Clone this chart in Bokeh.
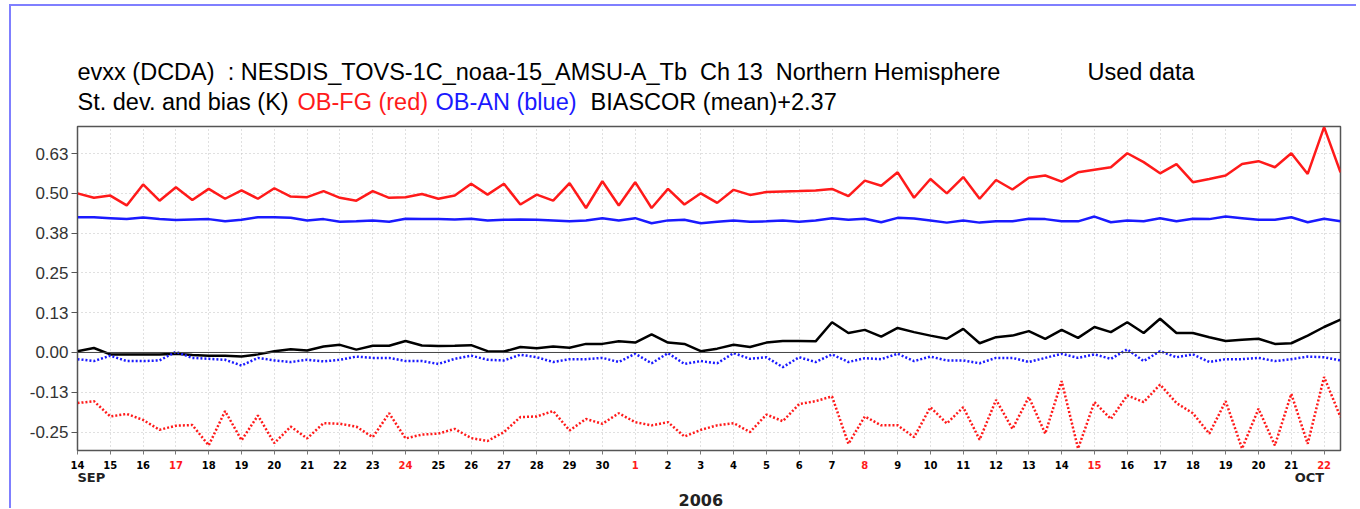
import numpy as np
from bokeh.plotting import figure
from bokeh.layouts import column
from bokeh.models import FixedTicker, Span, Range1d
from bokeh.core.properties import value
from bokeh.embed import file_html
from bokeh.resources import INLINE

# time axis: days since 14 Sep 2006, two analyses per day
days = np.arange(0, 39, 0.5)

# OB-FG standard deviation (red solid)
fg_sd = [0.500, 0.486, 0.493, 0.462, 0.528, 0.477, 0.519, 0.479, 0.514, 0.483,
         0.509, 0.483, 0.516, 0.490, 0.488, 0.507, 0.486, 0.477, 0.507, 0.486,
         0.488, 0.498, 0.483, 0.493, 0.530, 0.496, 0.530, 0.465, 0.496, 0.477,
         0.532, 0.454, 0.538, 0.462, 0.535, 0.454, 0.514, 0.465, 0.500, 0.470,
         0.511, 0.495, 0.504, 0.506, 0.507, 0.509, 0.514, 0.491, 0.540, 0.524,
         0.566, 0.486, 0.545, 0.500, 0.551, 0.483, 0.542, 0.512, 0.549, 0.556,
         0.537, 0.566, 0.574, 0.582, 0.626, 0.598, 0.563, 0.592, 0.535, 0.545,
         0.556, 0.592, 0.601, 0.582, 0.626, 0.561, 0.708, 0.566]

# OB-AN standard deviation (blue solid)
an_sd = [0.425, 0.425, 0.422, 0.419, 0.424, 0.419, 0.416, 0.418, 0.419, 0.412,
         0.417, 0.425, 0.425, 0.423, 0.415, 0.419, 0.411, 0.412, 0.415, 0.411,
         0.420, 0.419, 0.419, 0.418, 0.420, 0.415, 0.417, 0.418, 0.417, 0.415,
         0.412, 0.415, 0.422, 0.415, 0.422, 0.406, 0.415, 0.417, 0.406, 0.411,
         0.415, 0.411, 0.412, 0.415, 0.411, 0.415, 0.422, 0.417, 0.420, 0.409,
         0.423, 0.421, 0.415, 0.408, 0.415, 0.408, 0.412, 0.412, 0.420, 0.419,
         0.412, 0.412, 0.427, 0.409, 0.415, 0.412, 0.422, 0.412, 0.420, 0.419,
         0.427, 0.422, 0.417, 0.417, 0.425, 0.409, 0.420, 0.412]

# BIASCOR (mean) + 2.37 (black solid)
biascor = [0.004, 0.014, -0.006, -0.006, -0.006, -0.006, -0.004, -0.008, -0.010, -0.010,
           -0.013, -0.006, 0.004, 0.010, 0.006, 0.019, 0.024, 0.009, 0.021, 0.021,
           0.036, 0.022, 0.020, 0.021, 0.023, 0.004, 0.003, 0.017, 0.013, 0.019,
           0.015, 0.027, 0.027, 0.035, 0.031, 0.057, 0.031, 0.027, 0.004, 0.012,
           0.024, 0.017, 0.031, 0.036, 0.036, 0.035, 0.095, 0.061, 0.071, 0.050,
           0.077, 0.064, 0.053, 0.043, 0.074, 0.029, 0.048, 0.053, 0.067, 0.043,
           0.071, 0.046, 0.080, 0.064, 0.095, 0.061, 0.106, 0.061, 0.061, 0.048,
           0.036, 0.040, 0.043, 0.027, 0.029, 0.053, 0.080, 0.103]

# OB-AN bias (blue dotted)
an_bias = [-0.021, -0.027, -0.010, -0.027, -0.027, -0.025, 0.002, -0.017, -0.020, -0.023,
           -0.041, -0.017, -0.025, -0.030, -0.023, -0.028, -0.023, -0.013, -0.017, -0.017,
           -0.027, -0.027, -0.036, -0.020, -0.010, -0.023, -0.025, -0.007, -0.015, -0.030,
           -0.021, -0.021, -0.017, -0.030, -0.004, -0.034, -0.002, -0.036, -0.027, -0.034,
           -0.002, -0.020, -0.015, -0.046, -0.015, -0.030, -0.006, -0.030, -0.018, -0.021,
           -0.004, -0.027, -0.013, -0.025, -0.025, -0.034, -0.017, -0.017, -0.030, -0.017,
           -0.004, -0.017, -0.006, -0.020, 0.010, -0.027, 0.004, -0.015, -0.006, -0.030,
           -0.021, -0.021, -0.017, -0.027, -0.021, -0.013, -0.015, -0.025]

# OB-FG bias (red dotted)
fg_bias = [-0.159, -0.153, -0.201, -0.193, -0.212, -0.243, -0.230, -0.228, -0.292, -0.184,
           -0.276, -0.198, -0.285, -0.233, -0.270, -0.222, -0.224, -0.233, -0.266, -0.191,
           -0.270, -0.258, -0.255, -0.240, -0.269, -0.278, -0.250, -0.203, -0.201, -0.184,
           -0.245, -0.209, -0.224, -0.191, -0.219, -0.229, -0.219, -0.264, -0.243, -0.229,
           -0.222, -0.250, -0.195, -0.216, -0.162, -0.153, -0.138, -0.287, -0.201, -0.229,
           -0.229, -0.266, -0.172, -0.223, -0.172, -0.274, -0.149, -0.240, -0.140, -0.255,
           -0.090, -0.302, -0.156, -0.209, -0.135, -0.156, -0.101, -0.159, -0.191, -0.255,
           -0.153, -0.302, -0.177, -0.292, -0.130, -0.287, -0.077, -0.203]

# x tick labels (day of month), Sundays in red
tick_days = [14, 15, 16, 17, 18, 19, 20, 21, 22, 23, 24, 25, 26, 27, 28, 29, 30,
             1, 2, 3, 4, 5, 6, 7, 8, 9, 10, 11, 12, 13, 14, 15, 16, 17, 18, 19, 20, 21, 22]
sunday_idx = [3, 10, 17, 24, 31, 38]
month_labels = ["SEP", "OCT"]
year_label = "2006"

y_ticks = [-0.25, -0.125, 0.0, 0.125, 0.25, 0.375, 0.5, 0.625]
y_labels = ["-0.25", "-0.13", "0.00", "0.13", "0.25", "0.38", "0.50", "0.63"]

NB = "\u00a0"
title1 = f"evxx (DCDA) {NB}: NESDIS_TOVS-1C_noaa-15_AMSU-A_Tb {NB}Ch 13 {NB}Northern Hemisphere"
title1b = "Used data"
title2 = ["St. dev. and bias (K)", "OB-FG (red)", "OB-AN (blue)", "BIASCOR (mean)+2.37"]

RED = "#ff1a1a"
BLUE = "#1a1aff"
FONT = "Liberation Sans"
W = 1345
LB, RB = 66, 16
FW = W - LB - RB          # frame width in px
X0, X1 = 0, 38.5          # x range in days

# ---------------- header (titles) ----------------
HH = 110
head = figure(width=W, height=HH, x_range=Range1d(0, FW), y_range=Range1d(HH, 0),
              x_axis_location=None, y_axis_location=None,
              min_border_left=LB, min_border_right=RB, min_border_top=0, min_border_bottom=0,
              output_backend="svg", toolbar_location=None)
head.grid.visible = False
head.outline_line_color = None
head.text(x=[0, 1010], y=[65, 65], text=[title1, title1b], text_color="black",
          text_baseline="middle", text_font=value(FONT), text_font_size="23.5px")
head.text(x=[0, 220, 358, 513], y=[95] * 4, text=title2,
          text_color=["black", RED, BLUE, "black"],
          text_baseline="middle", text_font=value(FONT), text_font_size="23.5px")

# ---------------- main plot ----------------
p = figure(width=W, height=340, x_range=Range1d(X0, X1), y_range=Range1d(-0.308, 0.71),
           output_backend="svg", toolbar_location=None,
           min_border_left=LB, min_border_right=RB, min_border_top=10, min_border_bottom=6)
p.outline_line_color = "#555555"
p.outline_line_width = 1.5

p.yaxis.ticker = FixedTicker(ticks=y_ticks)
p.yaxis.major_label_overrides = {t: l for t, l in zip(y_ticks, y_labels)}
p.yaxis.major_label_text_font = FONT
p.yaxis.major_label_text_font_size = "17px"
p.yaxis.major_label_text_color = "#333333"
p.yaxis.axis_line_color = "#555555"
p.yaxis.major_tick_out = 6
p.yaxis.major_tick_in = 0
p.yaxis.minor_tick_line_color = None
p.yaxis.major_tick_line_color = "#555555"
p.yaxis.major_label_standoff = 3

xt = list(range(len(tick_days)))
p.xaxis.ticker = FixedTicker(ticks=xt)
p.xaxis.major_label_overrides = {t: "" for t in xt}
p.xaxis.major_label_text_font_size = "0px"
p.xaxis.major_label_standoff = 0
p.xaxis.axis_line_color = "#555555"
p.xaxis.major_tick_out = 4
p.xaxis.major_tick_in = 0
p.xaxis.minor_tick_line_color = None
p.xaxis.major_tick_line_color = "#777777"

p.grid.grid_line_color = "#c0c0c0"
p.grid.grid_line_dash = "1 3"
p.grid.grid_line_width = 1

p.add_layout(Span(location=0, dimension="width", line_color="#444444", line_width=1))

p.line(days, fg_sd, line_color=RED, line_width=2.5)
p.line(days, an_sd, line_color=BLUE, line_width=2.5)
p.line(days, biascor, line_color="black", line_width=2.5)
p.line(days, an_bias, line_color=BLUE, line_width=2.5, line_dash="2 2")
p.line(days, fg_bias, line_color=RED, line_width=2.5, line_dash="2 2")

# ---------------- footer (x tick labels) ----------------
# footer frame spans the whole canvas; its x range continues the main plot's scale
ppd = FW / (X1 - X0)
FH = 52
foot = figure(width=W, height=FH, x_range=Range1d(X0 - LB / ppd, X1 + RB / ppd),
              y_range=Range1d(FH, 0),
              x_axis_location=None, y_axis_location=None, min_border=0,
              output_backend="svg", toolbar_location=None)
foot.frame_align = False
foot.grid.visible = False
foot.outline_line_color = None
colors = [RED if i in sunday_idx else "black" for i in xt]
foot.text(x=xt, y=[8] * len(xt), text=[str(d) for d in tick_days], text_color=colors,
          text_align="center", text_baseline="middle", text_font=value("DejaVu Sans"),
          text_font_style="bold", text_font_size="10px")
foot.text(x=[0], y=[21], text=[month_labels[0]], text_align="left", text_baseline="middle",
          text_font=value("DejaVu Sans"), text_font_style="bold", text_font_size="13px",
          text_color="#222222")
foot.text(x=[38], y=[21], text=[month_labels[1]], text_align="right", text_baseline="middle",
          text_font=value("DejaVu Sans"), text_font_style="bold", text_font_size="13px",
          text_color="#222222")
foot.text(x=[19], y=[43], text=[year_label], text_align="center", text_baseline="middle",
          text_font=value("DejaVu Sans"), text_font_style="bold", text_font_size="16px",
          text_color="#222222")

layout = column(head, p, foot, margin=(4, 0, 0, 9),
                styles={"border-left": "2px solid #7f7fff", "border-top": "2px solid #7f7fff"})

open("out.html", "w").write(file_html(layout, INLINE))
